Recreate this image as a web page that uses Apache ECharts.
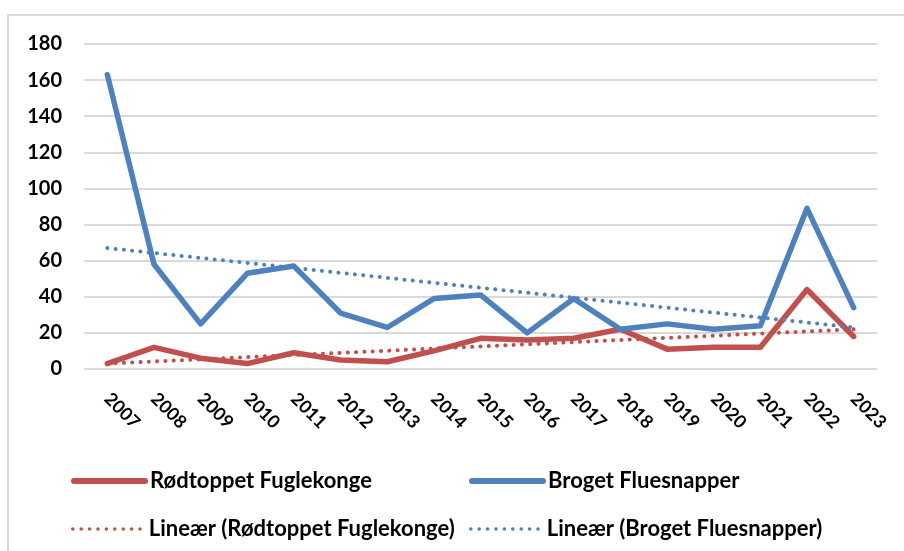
<!DOCTYPE html>
<html>
<head>
<meta charset="utf-8">
<script src="https://cdn.jsdelivr.net/npm/echarts@6/dist/echarts.min.js"></script>
<style>
  html, body { margin: 0; padding: 0; background: #fff; }
  #chart { width: 904px; height: 551px; }
</style>
</head>
<body>
<div id="chart"></div>
<script>
// years on x axis
var years = ['2007','2008','2009','2010','2011','2012','2013','2014','2015','2016','2017','2018','2019','2020','2021','2022','2023'];
// counts
var roedtoppet = [3, 12, 6, 3, 9, 5, 4, 10, 17, 16, 17, 22, 11, 12, 12, 44, 18];
var broget = [163, 58, 25, 53, 57, 31, 23, 39, 41, 20, 39, 22, 25, 22, 24, 89, 34];
// trend lines, only the two ends are read, the rest is left empty
var roedTrend = [3, null, null, null, null, null, null, null, null, null, null, null, null, null, null, null, 22];
var brogetTrend = [67, null, null, null, null, null, null, null, null, null, null, null, null, null, null, null, 23];

var RED = '#C0504D';
var BLUE = '#4F81BD';
var FONT = "Lato, 'Liberation Sans', sans-serif";

var names = ['Rødtoppet Fuglekonge', 'Broget Fluesnapper',
             'Lineær (Rødtoppet Fuglekonge)', 'Lineær (Broget Fluesnapper)'];

var chart = echarts.init(document.getElementById('chart'));

function legendAt(name, left, top, lineStyle) {
  return {
    data: [name],
    left: left,
    top: top,
    padding: 0,
    itemWidth: 71,
    itemHeight: 14,
    itemGap: 6,
    itemStyle: { opacity: 0 },
    lineStyle: lineStyle,
    textStyle: { fontFamily: FONT, fontSize: 22, fontWeight: 'bold', color: '#000' },
    selectedMode: false
  };
}

var solidIcon = function (c) { return { color: c, width: 6, cap: 'round', type: 'solid' }; };
var dotIcon = function (c) { return { color: c, width: 3.5, cap: 'round', type: [0.1, 8.3] }; };

var option = {
  animation: false,
  backgroundColor: '#fff',
  graphic: [
    { type: 'polyline', shape: { points: [[8, 560], [8, 15], [910, 15]] },
      style: { stroke: '#D9D9D9', lineWidth: 2, fill: null } }
  ],
  grid: { left: 84, right: 27, top: 44, bottom: 182 },
  legend: [
    legendAt(names[0], 71, 470, solidIcon(RED)),
    legendAt(names[1], 469, 470, solidIcon(BLUE)),
    legendAt(names[2], 71, 518, dotIcon(RED)),
    legendAt(names[3], 469, 518, dotIcon(BLUE))
  ],
  xAxis: {
    type: 'category',
    data: years,
    boundaryGap: true,
    axisLine: { show: false },
    axisTick: { show: false },
    axisLabel: {
      rotate: -45,
      interval: 0,
      align: 'left',
      verticalAlign: 'middle',
      margin: 27,
      fontFamily: FONT,
      fontSize: 18,
      fontWeight: 'bold',
      color: '#000'
    }
  },
  yAxis: {
    type: 'value',
    min: 0,
    max: 180,
    interval: 20,
    axisLine: { show: false },
    axisTick: { show: false },
    splitLine: { lineStyle: { color: '#D9D9D9', width: 2 } },
    axisLabel: {
      margin: 22,
      fontFamily: FONT,
      fontSize: 20,
      fontWeight: 'bold',
      color: '#000'
    }
  },
  series: [
    { name: names[0], type: 'line', data: roedtoppet, symbol: 'none',
      lineStyle: { color: RED, width: 5.5, cap: 'round', join: 'round' }, itemStyle: { color: RED }, z: 3 },
    { name: names[1], type: 'line', data: broget, symbol: 'none',
      lineStyle: { color: BLUE, width: 5.5, cap: 'round', join: 'round' }, itemStyle: { color: BLUE }, z: 4 },
    { name: names[2], type: 'line', data: roedTrend, symbol: 'none', connectNulls: true,
      lineStyle: { color: RED, width: 4, type: [0.1, 8.2], cap: 'round' }, itemStyle: { color: RED }, z: 5 },
    { name: names[3], type: 'line', data: brogetTrend, symbol: 'none', connectNulls: true,
      lineStyle: { color: BLUE, width: 4, type: [0.1, 8.2], cap: 'round' }, itemStyle: { color: BLUE }, z: 5 }
  ]
};

chart.setOption(option);
</script>
</body>
</html>
